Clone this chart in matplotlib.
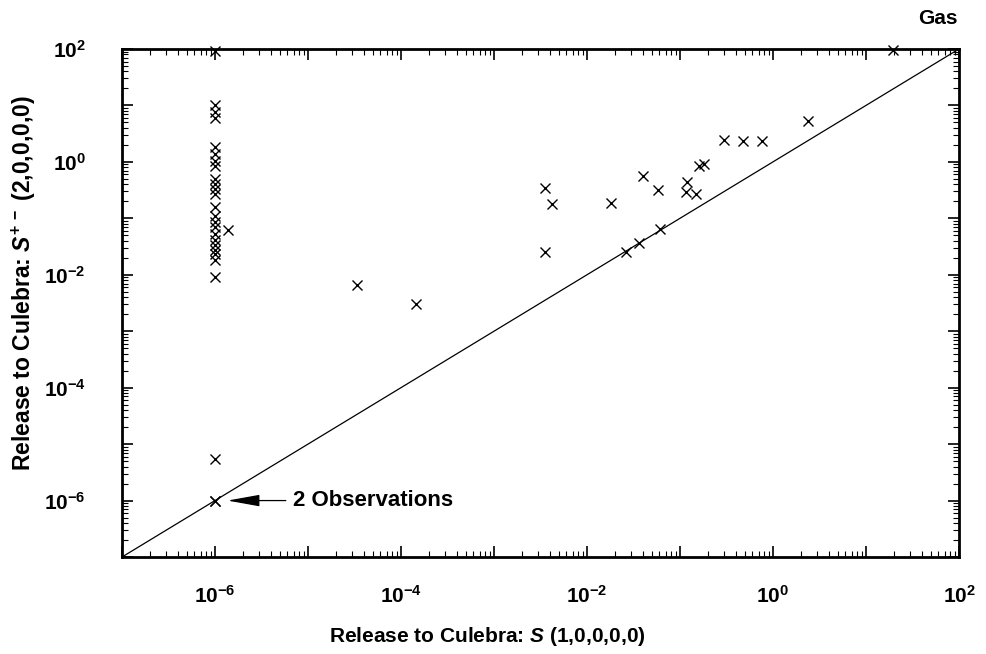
import numpy as np
import matplotlib
matplotlib.use("Agg")
import matplotlib.pyplot as plt
from matplotlib.ticker import LogLocator, FuncFormatter, NullFormatter

plt.rcParams['font.family'] = ['Liberation Sans', 'DejaVu Sans']
plt.rcParams['font.weight'] = 'bold'
plt.rcParams['mathtext.fontset'] = 'custom'
plt.rcParams['mathtext.rm'] = 'Liberation Sans:bold'
plt.rcParams['mathtext.it'] = 'Liberation Sans:bold:italic'
plt.rcParams['mathtext.bf'] = 'Liberation Sans:bold'

# runs with release at the 1e-6 floor for S(1,0,0,0,0)
y_floor = [92, 10, 7.8, 5.9, 1.85, 1.39, 1.04, 0.85, 0.50, 0.40, 0.33, 0.27,
           0.157, 0.109, 0.085, 0.069, 0.052, 0.042, 0.034, 0.028, 0.023,
           0.0185, 0.0092, 5.5e-6, 1e-6, 1e-6]
x_floor = [1e-6] * len(y_floor)

# other runs
x_rest = [1.38e-6, 3.4e-5, 1.45e-4, 3.5e-3, 4.2e-3, 3.5e-3, 0.018, 0.026,
          0.036, 0.040, 0.058, 0.061, 0.12, 0.116, 0.15, 0.16, 0.18, 0.30,
          0.48, 0.76, 2.4, 19.5]
y_rest = [0.063, 6.6e-3, 3.0e-3, 0.35, 0.18, 0.025, 0.19, 0.025,
          0.037, 0.56, 0.32, 0.066, 0.44, 0.29, 0.27, 0.85, 0.92, 2.4,
          2.3, 2.3, 5.4, 95]

lim = [1e-7, 1e2]

fig = plt.figure(figsize=(9.87, 6.54), dpi=100)
ax = fig.add_axes([0.1236, 0.1483, 0.848, 0.7768])

ax.plot(lim, lim, color='black', lw=0.9)
ax.plot(x_floor + x_rest, y_floor + y_rest, 'x', color='black',
        markersize=7, mew=1.0, clip_on=False)

ax.set_xscale('log')
ax.set_yscale('log')
ax.set_xlim(lim)
ax.set_ylim(lim)


def fmt(v, pos):
    e = int(round(np.log10(v)))
    if e % 2 == 0:
        return r'$10^{%d}$' % e
    return ''


for axis in (ax.xaxis, ax.yaxis):
    axis.set_major_locator(LogLocator(base=10, numticks=20))
    axis.set_minor_locator(LogLocator(base=10, subs=np.arange(2, 10), numticks=20))
    axis.set_major_formatter(FuncFormatter(fmt))
    axis.set_minor_formatter(NullFormatter())

ax.tick_params(which='both', direction='in', top=True, right=True, labelsize=15)
ax.tick_params(which='major', length=8, width=1.2)
ax.tick_params(which='minor', length=4, width=0.8)
ax.tick_params(axis='x', which='major', pad=20)
ax.tick_params(axis='y', which='major', pad=26)
for s in ax.spines.values():
    s.set_linewidth(2)

ax.set_xlabel('Release to Culebra: $S$ (1,0,0,0,0)', fontsize=15, fontweight='bold')
ax.set_ylabel(r'Release to Culebra: $S^{+\,-}$ (2,0,0,0,0)', fontsize=16.5,
              fontweight='bold')
ax.xaxis.set_label_coords(0.436, -0.133)
ax.yaxis.set_label_coords(-0.10, 0.54)

ax.annotate('2 Observations', xy=(1e-6, 1e-6), xytext=(56, 0),
            textcoords='offset points', ha='left', va='center',
            fontsize=16, fontweight='bold',
            arrowprops=dict(arrowstyle='-|>,head_length=2.0,head_width=0.36',
                            mutation_scale=10, color='black', lw=0.9,
                            shrinkA=3, shrinkB=9))

fig.text(0.9706, 0.972, 'Gas', ha='right', va='center', fontsize=15,
         fontweight='bold')

fig.savefig('out.png', dpi=100)
